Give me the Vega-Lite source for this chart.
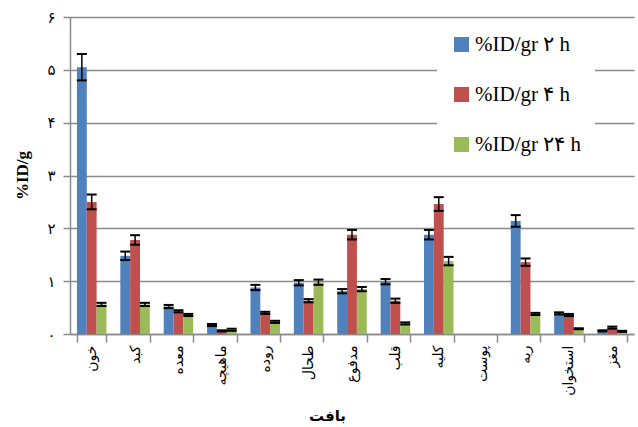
{
  "$schema": "https://vega.github.io/schema/vega-lite/v6.json",
  "width": 564,
  "height": 317,
  "autosize": {"type": "none"},
  "padding": {"left": 70, "top": 17, "right": 4, "bottom": 93},
  "background": "white",
  "config": {
    "view": {"stroke": null},
    "axis": {"domainColor": "#8a8a8a", "tickColor": "#8a8a8a", "gridColor": "#8a8a8a", "labelColor": "black", "titleColor": "black"}
  },
  "data": {
    "values": [
      {"tissue": "خون", "series": "%ID/gr ۲ h", "value": 5.05, "lo": 4.80, "hi": 5.30},
      {"tissue": "خون", "series": "%ID/gr ۴ h", "value": 2.50, "lo": 2.36, "hi": 2.64},
      {"tissue": "خون", "series": "%ID/gr ۲۴ h", "value": 0.56, "lo": 0.53, "hi": 0.59},
      {"tissue": "کبد", "series": "%ID/gr ۲ h", "value": 1.48, "lo": 1.40, "hi": 1.56},
      {"tissue": "کبد", "series": "%ID/gr ۴ h", "value": 1.78, "lo": 1.69, "hi": 1.87},
      {"tissue": "کبد", "series": "%ID/gr ۲۴ h", "value": 0.56, "lo": 0.53, "hi": 0.59},
      {"tissue": "معده", "series": "%ID/gr ۲ h", "value": 0.52, "lo": 0.49, "hi": 0.55},
      {"tissue": "معده", "series": "%ID/gr ۴ h", "value": 0.43, "lo": 0.41, "hi": 0.45},
      {"tissue": "معده", "series": "%ID/gr ۲۴ h", "value": 0.36, "lo": 0.34, "hi": 0.38},
      {"tissue": "ماهیچه", "series": "%ID/gr ۲ h", "value": 0.17, "lo": 0.15, "hi": 0.19},
      {"tissue": "ماهیچه", "series": "%ID/gr ۴ h", "value": 0.06, "lo": 0.05, "hi": 0.07},
      {"tissue": "ماهیچه", "series": "%ID/gr ۲۴ h", "value": 0.08, "lo": 0.06, "hi": 0.10},
      {"tissue": "روده", "series": "%ID/gr ۲ h", "value": 0.88, "lo": 0.83, "hi": 0.93},
      {"tissue": "روده", "series": "%ID/gr ۴ h", "value": 0.40, "lo": 0.38, "hi": 0.42},
      {"tissue": "روده", "series": "%ID/gr ۲۴ h", "value": 0.23, "lo": 0.21, "hi": 0.25},
      {"tissue": "طحال", "series": "%ID/gr ۲ h", "value": 0.97, "lo": 0.92, "hi": 1.02},
      {"tissue": "طحال", "series": "%ID/gr ۴ h", "value": 0.63, "lo": 0.60, "hi": 0.66},
      {"tissue": "طحال", "series": "%ID/gr ۲۴ h", "value": 0.98, "lo": 0.93, "hi": 1.03},
      {"tissue": "مدفوع", "series": "%ID/gr ۲ h", "value": 0.81, "lo": 0.77, "hi": 0.85},
      {"tissue": "مدفوع", "series": "%ID/gr ۴ h", "value": 1.88, "lo": 1.79, "hi": 1.97},
      {"tissue": "مدفوع", "series": "%ID/gr ۲۴ h", "value": 0.85, "lo": 0.81, "hi": 0.89},
      {"tissue": "قلب", "series": "%ID/gr ۲ h", "value": 0.99, "lo": 0.94, "hi": 1.04},
      {"tissue": "قلب", "series": "%ID/gr ۴ h", "value": 0.63, "lo": 0.59, "hi": 0.67},
      {"tissue": "قلب", "series": "%ID/gr ۲۴ h", "value": 0.20, "lo": 0.18, "hi": 0.22},
      {"tissue": "کلیه", "series": "%ID/gr ۲ h", "value": 1.88, "lo": 1.79, "hi": 1.97},
      {"tissue": "کلیه", "series": "%ID/gr ۴ h", "value": 2.46, "lo": 2.33, "hi": 2.59},
      {"tissue": "کلیه", "series": "%ID/gr ۲۴ h", "value": 1.38, "lo": 1.30, "hi": 1.46},
      {"tissue": "پوست", "series": "%ID/gr ۲ h", "value": 0, "lo": null, "hi": null},
      {"tissue": "پوست", "series": "%ID/gr ۴ h", "value": 0, "lo": null, "hi": null},
      {"tissue": "پوست", "series": "%ID/gr ۲۴ h", "value": 0, "lo": null, "hi": null},
      {"tissue": "ریه", "series": "%ID/gr ۲ h", "value": 2.14, "lo": 2.03, "hi": 2.25},
      {"tissue": "ریه", "series": "%ID/gr ۴ h", "value": 1.36, "lo": 1.29, "hi": 1.43},
      {"tissue": "ریه", "series": "%ID/gr ۲۴ h", "value": 0.38, "lo": 0.36, "hi": 0.40},
      {"tissue": "استخوان", "series": "%ID/gr ۲ h", "value": 0.39, "lo": 0.37, "hi": 0.41},
      {"tissue": "استخوان", "series": "%ID/gr ۴ h", "value": 0.36, "lo": 0.34, "hi": 0.38},
      {"tissue": "استخوان", "series": "%ID/gr ۲۴ h", "value": 0.10, "lo": 0.09, "hi": 0.11},
      {"tissue": "مغز", "series": "%ID/gr ۲ h", "value": 0.06, "lo": 0.05, "hi": 0.07},
      {"tissue": "مغز", "series": "%ID/gr ۴ h", "value": 0.12, "lo": 0.10, "hi": 0.14},
      {"tissue": "مغز", "series": "%ID/gr ۲۴ h", "value": 0.05, "lo": 0.04, "hi": 0.06}
    ]
  },
  "encoding": {
    "x": {
      "field": "tissue",
      "type": "nominal",
      "sort": null,
      "scale": {"paddingInner": 0.32, "paddingOuter": 0.16},
      "axis": {
        "title": "بافت",
        "titleFont": "DejaVu Sans",
        "titleFontSize": 15,
        "titleFontWeight": "bold",
        "titleX": 257,
        "titleY": 81,
        "titleAlign": "center",
        "titleBaseline": "middle",
        "tickBand": "extent",
        "tickSize": 8,
        "tickWidth": 1.5,
        "domainWidth": 1.5,
        "labelAngle": -90,
        "labelAlign": "right",
        "labelBaseline": "middle",
        "labelPadding": 3,
        "labelFont": "DejaVu Sans",
        "labelFontSize": 14,
        "grid": false
      }
    },
    "xOffset": {
      "field": "series",
      "type": "nominal",
      "sort": ["%ID/gr ۲ h", "%ID/gr ۴ h", "%ID/gr ۲۴ h"],
      "scale": {"paddingInner": 0, "paddingOuter": 0}
    }
  },
  "layer": [
    {
      "mark": {"type": "bar"},
      "encoding": {
        "y": {
          "field": "value",
          "type": "quantitative",
          "scale": {"domain": [0, 6], "nice": false},
          "axis": {
            "title": "%ID/g",
            "titleFont": "Liberation Serif",
            "titleFontSize": 17,
            "titleFontWeight": "bold",
            "titleAngle": -90,
            "titleX": -48,
            "titleY": 158,
            "titleAlign": "center",
            "titleBaseline": "middle",
            "values": [0, 1, 2, 3, 4, 5, 6],
            "labelExpr": "['۰','۱','۲','۳','۴','۵','۶'][datum.value]",
            "labelFont": "DejaVu Sans",
            "labelFontSize": 15,
            "labelPadding": 8,
            "tickSize": 7,
            "tickWidth": 1.5,
            "domainWidth": 1.5,
            "grid": true,
            "gridWidth": 1.5
          }
        },
        "color": {
          "field": "series",
          "type": "nominal",
          "sort": ["%ID/gr ۲ h", "%ID/gr ۴ h", "%ID/gr ۲۴ h"],
          "scale": {"range": ["#4F81BD", "#C0504D", "#9BBB59"]},
          "legend": {
            "title": null,
            "orient": "none",
            "legendX": 367,
            "legendY": 3,
            "direction": "vertical",
            "fillColor": "white",
            "padding": 14,
            "rowPadding": 28,
            "symbolType": "square",
            "symbolSize": 225,
            "symbolStrokeWidth": 0,
            "symbolOpacity": 1,
            "labelFont": "Liberation Serif",
            "labelFontSize": 21,
            "labelColor": "black",
            "labelOffset": 3,
            "labelLimit": 300
          }
        }
      }
    },
    {
      "mark": {"type": "rule", "color": "black", "strokeWidth": 1.5},
      "encoding": {
        "y": {"field": "lo", "type": "quantitative"},
        "y2": {"field": "hi"}
      }
    },
    {
      "mark": {"type": "tick", "color": "black", "size": 10, "thickness": 2, "opacity": 1},
      "encoding": {
        "y": {"field": "lo", "type": "quantitative"}
      }
    },
    {
      "mark": {"type": "tick", "color": "black", "size": 10, "thickness": 2, "opacity": 1},
      "encoding": {
        "y": {"field": "hi", "type": "quantitative"}
      }
    }
  ]
}
